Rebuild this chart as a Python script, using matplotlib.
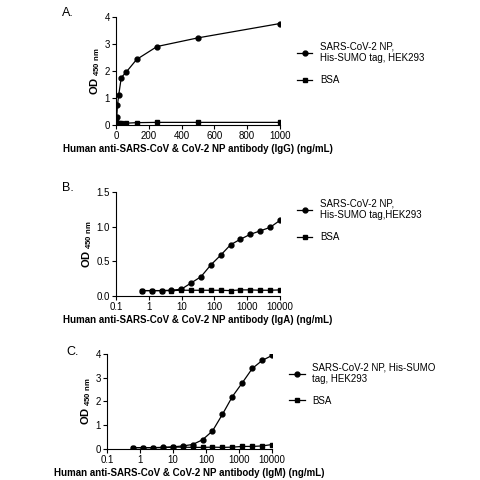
import matplotlib
matplotlib.use("Agg")
import matplotlib.pyplot as plt

plt.rcParams['font.family'] = ['Liberation Sans', 'DejaVu Sans']

xA = [0.98, 1.95, 3.9, 7.8, 15.6, 31.25, 62.5, 125, 250, 500, 1000]
npA = [0.05, 0.1, 0.3, 0.72, 1.1, 1.75, 1.96, 2.42, 2.9, 3.22, 3.75]
bsaA = [0.05, 0.05, 0.06, 0.06, 0.06, 0.06, 0.06, 0.08, 0.09, 0.09, 0.09]

xBC = [0.61, 1.22, 2.44, 4.88, 9.77, 19.5, 39, 78, 156, 312, 625, 1250, 2500, 5000, 10000]
npB = [0.08, 0.08, 0.08, 0.085, 0.1, 0.19, 0.28, 0.45, 0.59, 0.74, 0.82, 0.89, 0.94, 0.99, 1.09]
bsaB = [0.08, 0.08, 0.08, 0.08, 0.085, 0.085, 0.085, 0.085, 0.085, 0.08, 0.09, 0.09, 0.085, 0.085, 0.09]
npC = [0.05, 0.05, 0.05, 0.06, 0.08, 0.12, 0.18, 0.38, 0.75, 1.45, 2.2, 2.78, 3.38, 3.72, 3.93]
bsaC = [0.05, 0.05, 0.05, 0.05, 0.07, 0.07, 0.06, 0.06, 0.07, 0.06, 0.07, 0.1, 0.1, 0.12, 0.18]

fig = plt.figure(figsize=(4.8, 4.8), dpi=100)

def style(ax):
    for s in ['top', 'right']:
        ax.spines[s].set_visible(False)
    ax.tick_params(labelsize=7, width=0.8, length=3, pad=1.5)
    ax.set_ylabel('OD$_{\\mathregular{\\ 450\\ nm}}$', fontsize=8, fontweight='bold', labelpad=2)

def panel(rect, x, a, b, lab_a, xlabel, letter, letpos, ylim, yticks, log, legpos):
    ax = fig.add_axes(rect)
    l1, = ax.plot(x, a, '-o', color='black', ms=3.5, lw=0.9)
    l2, = ax.plot(x, b, '-s', color='black', ms=3.5, lw=0.9)
    style(ax)
    ax.set_ylim(ylim)
    ax.set_yticks(yticks)
    if log:
        ax.set_xscale('log')
        ax.set_xlim(0.1, 10000)
        ax.set_xticks([0.1, 1, 10, 100, 1000, 10000])
        ax.set_xticklabels(['0.1', '1', '10', '100', '1000', '10000'])
        ax.minorticks_off()
    else:
        ax.set_xlim(0, 1000)
        ax.set_xticks(range(0, 1001, 200))
    ax.set_xlabel(xlabel, fontsize=7, fontweight='bold', labelpad=2)
    ax.legend([l1, l2], [lab_a, 'BSA'], loc='upper left', bbox_to_anchor=legpos,
              frameon=False, fontsize=7, handlelength=1.6, labelspacing=1.2)
    fig.text(letpos[0], letpos[1], letter, fontsize=9, va='top')
    return ax

panel([0.242, 0.740, 0.341, 0.225], xA, npA, bsaA,
      'SARS-CoV-2 NP,\nHis-SUMO tag, HEK293',
      'Human anti-SARS-CoV & CoV-2 NP antibody (IgG) (ng/mL)', 'A.', (0.13, 0.985),
      (0, 4), [0, 1, 2, 3, 4], False, (1.05, 0.85))
panel([0.242, 0.383, 0.341, 0.217], xBC, npB, bsaB,
      'SARS-CoV-2 NP,\nHis-SUMO tag,HEK293',
      'Human anti-SARS-CoV & CoV-2 NP antibody (IgA) (ng/mL)', 'B.', (0.13, 0.62),
      (0, 1.5), [0.0, 0.5, 1.0, 1.5], True, (1.05, 1.02))
panel([0.223, 0.065, 0.344, 0.198], xBC, npC, bsaC,
      'SARS-CoV-2 NP, His-SUMO\ntag, HEK293',
      'Human anti-SARS-CoV & CoV-2 NP antibody (IgM) (ng/mL)', 'C.', (0.138, 0.28),
      (0, 4), [0, 1, 2, 3, 4], True, (1.05, 1.0))

fig.savefig('out.png', dpi=100)
